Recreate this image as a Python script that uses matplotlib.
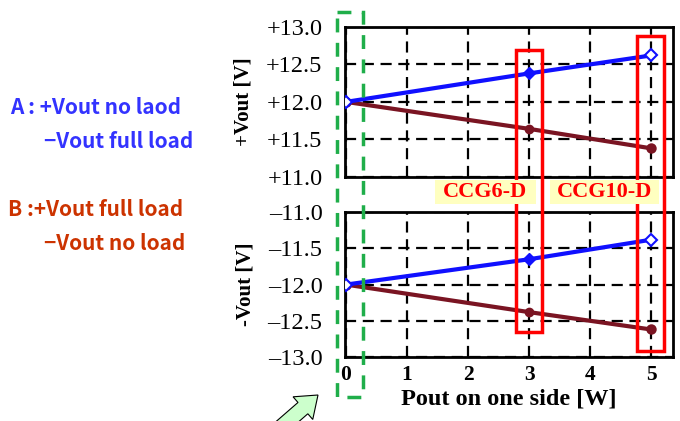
import numpy as np
import matplotlib.pyplot as plt
import matplotlib.patches as patches
import matplotlib.transforms as mtransforms

# datos
pout = [0, 3, 5]
vpos_a = [12.00, 12.38, 12.62]   # +Vout, A
vpos_b = [12.00, 11.64, 11.38]   # +Vout, B
vneg_a = [-12.00, -11.65, -11.38]  # -Vout, A
vneg_b = [-12.00, -12.38, -12.62]  # -Vout, B
xticks = [0, 1, 2, 3, 4, 5]
yticks_top = [11.0, 11.5, 12.0, 12.5, 13.0]
yticks_bot = [-13.0, -12.5, -12.0, -11.5, -11.0]

azul = '#1010ff'
marron = '#7a1422'
serif = ['Liberation Serif', 'DejaVu Serif']

fig = plt.figure(figsize=(6.8, 4.21), dpi=100)
ax1 = fig.add_axes([0.507, 0.580, 0.483, 0.356])
ax2 = fig.add_axes([0.507, 0.152, 0.483, 0.344])


def estilo(ax, yticks, ylabel, fmt):
    ax.set_xlim(-0.02, 5.36)
    ax.set_ylim(yticks[0], yticks[-1])
    ax.set_xticks(xticks)
    ax.set_yticks(yticks)
    ax.set_yticklabels([fmt(v) for v in yticks], family=serif, fontsize=17.5)
    ax.grid(True, color='k', linestyle=(0, (5, 3)), linewidth=1.6)
    ax.tick_params(length=0, pad=16)
    ax.tick_params(axis='x', pad=6)
    for s in ax.spines.values():
        s.set_linewidth(2)
    ax.set_ylabel(ylabel, family=serif, fontweight='bold', fontsize=15, labelpad=9)


def dibujar(ax, y, color, mk, ms):
    ax.plot(pout, y, color=color, linewidth=3, zorder=3)
    ax.plot(pout[1], y[1], marker=mk, color=color, markersize=ms, zorder=4)
    for i in (0, 2):
        ax.plot(pout[i], y[i], marker=mk, markerfacecolor='white' if color == azul else color,
                markeredgecolor=color, markeredgewidth=1.5, markersize=ms, zorder=4)


estilo(ax1, yticks_top, '+Vout [V]', lambda v: '+%.1f' % v)
ax1.set_xticklabels([])
dibujar(ax1, vpos_b, marron, 'o', 6)
dibujar(ax1, vpos_a, azul, 'D', 6)

estilo(ax2, yticks_bot, '-Vout [V]', lambda v: '\u2013%.1f' % abs(v))
ax2.set_xticklabels([str(v) for v in xticks], family=serif, fontweight='bold', fontsize=15.5)
ax2.set_xlabel('Pout on one side [W]', family=serif, fontweight='bold', fontsize=17.5, labelpad=2)
dibujar(ax2, vneg_b, marron, 'o', 6)
dibujar(ax2, vneg_a, azul, 'D', 6)

# capa de anotaciones en píxeles
ov = fig.add_axes([0, 0, 1, 1], zorder=10)
ov.set_xlim(0, 680)
ov.set_ylim(421, 0)
ov.axis('off')
ov.patch.set_alpha(0)

tr = mtransforms.blended_transform_factory(ax1.transData, ov.transData)

# recuadros rojos
for x0, x1, y0, y1 in [(2.79, 3.21, 50, 332), (4.77, 5.21, 36, 351)]:
    ov.add_patch(patches.Rectangle((x0, y0), x1 - x0, y1 - y0, transform=tr,
                                   fill=False, edgecolor='#ff0000', linewidth=2.5, clip_on=False))

# etiquetas CCG
for x0, x1, txt in [(1.46, 3.11, 'CCG6-D'), (3.34, 5.13, 'CCG10-D')]:
    ov.add_patch(patches.Rectangle((x0, 180), x1 - x0, 24, transform=tr,
                                   facecolor='#ffffc0', edgecolor='none', clip_on=False, zorder=1))
    ov.text((x0 + x1) / 2, 192, txt, transform=tr, ha='center', va='center',
            color='#ff0000', family=serif, fontweight='bold', fontsize=16, zorder=2)

# recuadro verde en x=0
ov.add_patch(patches.Rectangle((337, 12), 26, 385, fill=False, edgecolor='#1fae4a',
                               linewidth=2.5, linestyle=(0, (4, 3))))

# flecha verde
ov.add_patch(patches.FancyArrow(272, 435, 46, -40, width=15, head_width=30, head_length=20,
                                length_includes_head=True, facecolor='#ccffcc',
                                edgecolor='k', linewidth=0.8))

# leyenda de texto a la izquierda
sans = ['Noto Sans CJK JP', 'DejaVu Sans']
kw = dict(family=sans, fontsize=15, fontweight='bold', va='center')
ov.text(10, 108, 'A : +Vout no laod', color='#3333ff', **kw)
ov.text(44, 142, '\u2212Vout full load', color='#3333ff', **kw)
ov.text(8, 210, 'B :+Vout full load', color='#cc3300', **kw)
ov.text(44, 243, '\u2212Vout no load', color='#cc3300', **kw)

fig.savefig('out.png', dpi=100)
